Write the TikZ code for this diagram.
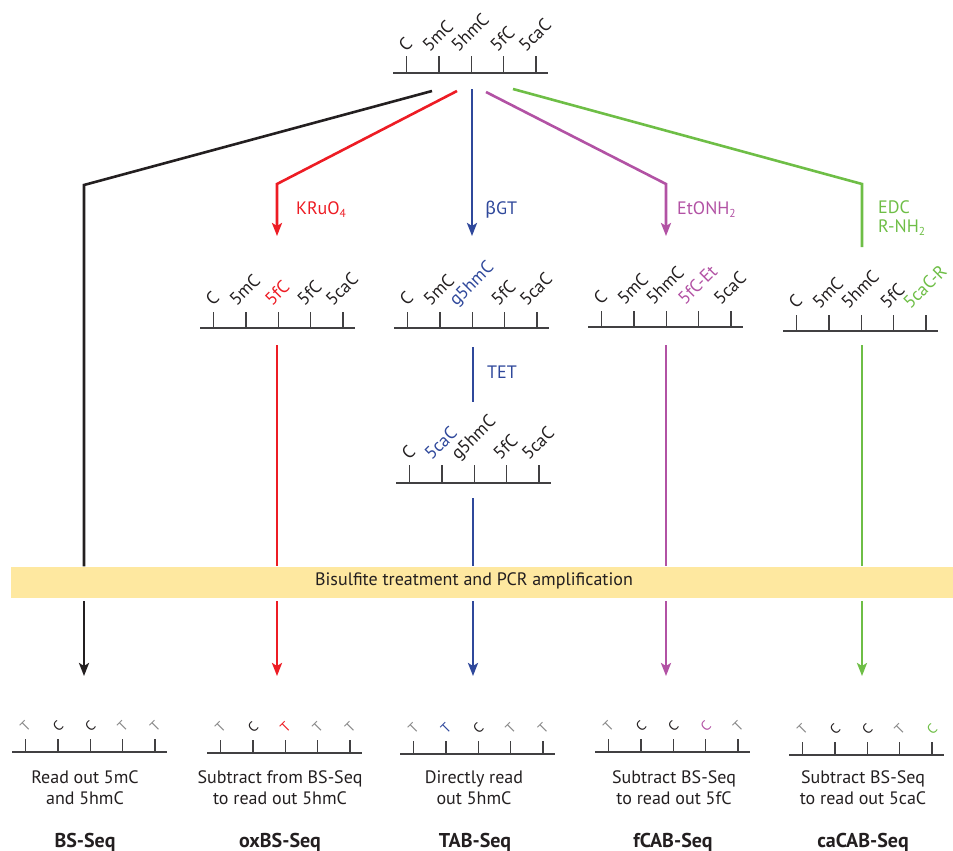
\documentclass[tikz,border=0pt]{standalone}
\usepackage{fontspec}
\setmainfont{PT Sans}
\newfontfamily\grk{Fira Sans}
\usetikzlibrary{arrows.meta}
\definecolor{ink}{RGB}{35,31,32}
\definecolor{strk}{RGB}{65,64,66}
\definecolor{tgray}{RGB}{135,135,135}
\definecolor{kred}{RGB}{237,28,36}
\definecolor{kblue}{RGB}{47,72,155}
\definecolor{kmag}{RGB}{178,82,164}
\definecolor{kgrn}{RGB}{110,190,70}
\definecolor{bandfill}{RGB}{254,232,160}
\newcommand\lowsub[1]{\raisebox{-0.35ex}{\fontsize{11.5}{11.5}\selectfont#1}}
\newcommand\chain[3]{% left end, base line, tick height
  \draw[strand] (#1,-#2) -- ++(155,0);
  \foreach \k in {0,...,4}
    \draw[strand] (#1+13.5+32.4*\k,-#2) -- ++(0,#3);}
\newcommand\tags[3]{% left end, foot of labels, label/colour
  \foreach \lbl/\col [count=\k from 0] in {#3}{
    \pgfmathsetmacro\tagx{#1+13.5+32.4*\k-0.354*width("\lbl")+3}
    \node[tag,text=\col] at (\tagx,-#2) {\lbl};}}
\newcommand\reads[3]{% left end, height of letters, letter/colour
  \foreach \nt/\col [count=\k from 0] in {#3}
    \node[nuc,text=\col] at (#1+13.5+32.4*\k,-#2) {\nt};}
\begin{document}
\begin{tikzpicture}[x=1pt,y=1pt,font=\fontsize{18}{21}\selectfont,
    strand/.style={line width=1.4pt,draw=strk},
    lead/.style={line width=2.6pt},
    tip/.style={-{Stealth[length=13pt,width=10pt,inset=3pt]}},
    tag/.style={rotate=45,anchor=base west,inner sep=0pt},
    nuc/.style={rotate=45,inner sep=0pt,font=\fontsize{14}{14}\selectfont},
    note/.style={anchor=west,inner sep=0pt},
    title/.style={text=ink,font=\fontsize{20}{21}\selectfont\bfseries}]
  \fontsize{18}{21}\selectfont
  \useasboundingbox (0,0) rectangle (953,-851);
  \node[fill=bandfill,minimum width=942pt,minimum height=31pt,inner sep=0pt] (band) at (482,-582) {}; %fascia
  \node[text=ink] (bis) at (474,-581) {Bisulfite treatment and PCR amplification};

  \chain{393}{73}{17} %filamento iniziale
  \tags{393}{53}{C/ink,5mC/ink,5hmC/ink,5fC/ink,5caC/ink}

  \coordinate (k0) at (432,-91); \coordinate (k1) at (84,-185); %BS-Seq
  \coordinate (k2) at (84,-601); \coordinate (k3) at (84,-676);
  \draw[lead,draw=ink] (k0) -- (k1) -- (k1 |- band.north);
  \draw[lead,draw=ink,tip] (k2) -- (k3);

  \coordinate (r0) at (457,-91); \coordinate (r1) at (277,-184); \coordinate (r2) at (277,-236); %oxBS-Seq
  \coordinate (r3) at (277,-345); \coordinate (r4) at (277,-601); \coordinate (r5) at (277,-676);
  \draw[lead,draw=kred,tip] (r0) -- (r1) -- (r2);
  \draw[lead,draw=kred] (r3) -- (r3 |- band.north);
  \draw[lead,draw=kred,tip] (r4) -- (r5);
  \node[note,text=kred] (kru) at (296,-210) {KRuO\lowsub{4}};

  \coordinate (b0) at (472,-89); \coordinate (b1) at (472,-236); %TAB-Seq
  \coordinate (b2) at (473,-347); \coordinate (b3) at (473,-402);
  \coordinate (b4) at (473,-498); \coordinate (b5) at (473,-601); \coordinate (b6) at (473,-676);
  \draw[lead,draw=kblue,tip] (b0) -- (b1);
  \draw[lead,draw=kblue] (b2) -- (b3);
  \draw[lead,draw=kblue] (b4) -- (b4 |- band.north);
  \draw[lead,draw=kblue,tip] (b5) -- (b6);
  \node[note,text=kblue] (bgt) at (485,-210) {{\grk β}GT};
  \node[note,text=kblue] (tet) at (487,-372) {TET};

  \coordinate (m0) at (486,-92); \coordinate (m1) at (666,-184); \coordinate (m2) at (666,-236); %fCAB-Seq
  \coordinate (m3) at (666,-345); \coordinate (m4) at (666,-601); \coordinate (m5) at (666,-676);
  \draw[lead,draw=kmag,tip] (m0) -- (m1) -- (m2);
  \draw[lead,draw=kmag] (m3) -- (m3 |- band.north);
  \draw[lead,draw=kmag,tip] (m4) -- (m5);
  \node[note,text=kmag] (eto) at (677,-210) {EtONH\lowsub{2}};

  \coordinate (g0) at (513,-89); \coordinate (g1) at (862,-184); \coordinate (g2) at (862,-247); %caCAB-Seq
  \coordinate (g3) at (862,-345); \coordinate (g4) at (862,-601); \coordinate (g5) at (862,-676);
  \draw[lead,draw=kgrn] (g0) -- (g1) -- (g2);
  \draw[lead,draw=kgrn] (g3) -- (g3 |- band.north);
  \draw[lead,draw=kgrn,tip] (g4) -- (g5);
  \node[note,text=kgrn,align=left,font=\fontsize{18}{19.5}\selectfont] (edc) at (878,-218) {EDC\\R-NH\lowsub{2}};

  \chain{200}{328}{16} %dopo le reazioni
  \tags{200}{307}{C/ink,5mC/ink,5fC/kred,5fC/ink,5caC/ink}
  \chain{394}{328}{16}
  \tags{394}{307}{C/ink,5mC/ink,g5hmC/kblue,5fC/ink,5caC/ink}
  \chain{588}{327}{16}
  \tags{588}{306}{C/ink,5mC/ink,5hmC/ink,5fC-Et/kmag,5caC/ink}
  \chain{783}{331}{16}
  \tags{783}{310}{C/ink,5mC/ink,5hmC/ink,5fC/ink,5caC-R/kgrn}
  \chain{396}{483}{18}
  \tags{396}{461}{C/ink,5caC/kblue,g5hmC/ink,5fC/ink,5caC/ink}

  \chain{12}{752}{13} %letture
  \reads{12}{726}{T/tgray,C/ink,C/ink,T/tgray,T/tgray}
  \chain{207}{753}{13}
  \reads{207}{727}{T/tgray,C/ink,T/kred,T/tgray,T/tgray}
  \chain{400}{754}{13}
  \reads{400}{728}{T/tgray,T/kblue,C/ink,T/tgray,T/tgray}
  \chain{595}{752}{13}
  \reads{595}{726}{T/tgray,C/ink,C/ink,C/kmag,T/tgray}
  \chain{789}{755}{13}
  \reads{789}{729}{T/tgray,C/ink,C/ink,T/tgray,C/kgrn}

  \node[text=ink,align=center] (d1) at (85,-788) {Read out 5mC\\and 5hmC};
  \node[text=ink,align=center] (d2) at (280,-788) {Subtract from BS-Seq\\to read out 5hmC};
  \node[text=ink,align=center] (d3) at (474,-788) {Directly read\\out 5hmC};
  \node[text=ink,align=center] (d4) at (674,-788) {Subtract BS-Seq\\to read out 5fC};
  \node[text=ink,align=center] (d5) at (863,-788) {Subtract BS-Seq\\to read out 5caC};
  \node[title] (n1) at (85,-842) {BS-Seq};
  \node[title] (n2) at (280,-842) {oxBS-Seq};
  \node[title] (n3) at (475,-842) {TAB-Seq};
  \node[title] (n4) at (673,-842) {fCAB-Seq};
  \node[title] (n5) at (863,-842) {caCAB-Seq};
\end{tikzpicture}
\end{document}
